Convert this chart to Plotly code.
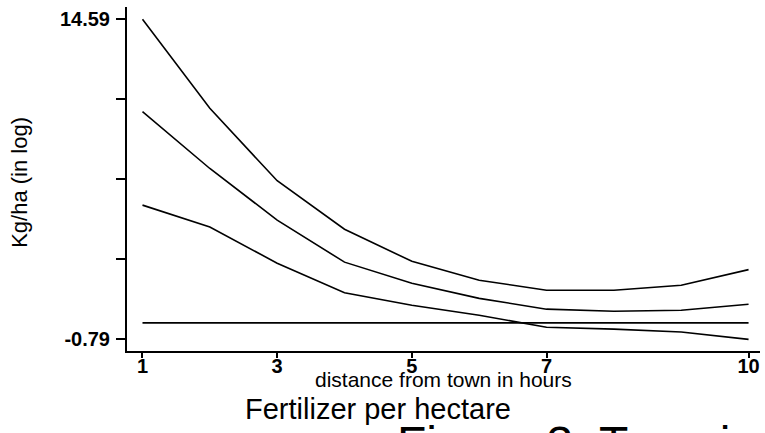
import plotly.graph_objects as go

hours = [1, 2, 3, 4, 5, 6, 7, 8, 9, 10]
upper_band = [14.59, 10.31, 6.83, 4.50, 2.96, 2.05, 1.57, 1.57, 1.81, 2.56]
estimate = [10.15, 7.42, 4.94, 2.92, 1.91, 1.18, 0.66, 0.56, 0.61, 0.90]
lower_band = [5.66, 4.61, 2.87, 1.45, 0.85, 0.37, -0.21, -0.30, -0.44, -0.79]
zero_line = [0, 0, 0, 0, 0, 0, 0, 0, 0, 0]

y_tickvals = [-0.79, 3.055, 6.9, 10.745, 14.59]
y_ticktext = ["-0.79", "", "", "", "14.59"]
x_tickvals = [1, 3, 5, 7, 10]
x_ticktext = ["1", "3", "5", "7", "10"]

FONT = "Liberation Sans, Arial, sans-serif"

fig = go.Figure()
for ys in [upper_band, estimate, lower_band, zero_line]:
    fig.add_trace(go.Scatter(x=hours, y=ys, mode="lines",
                             line=dict(color="black", width=1.6),
                             showlegend=False, hoverinfo="skip", cliponaxis=False))

fig.update_layout(
    width=765, height=433,
    margin=dict(l=127, r=5, t=7, b=82, autoexpand=False),
    paper_bgcolor="white", plot_bgcolor="white",
    font=dict(family=FONT, color="black", size=20),
    xaxis=dict(range=[0.77, 10.17], tickvals=x_tickvals, ticktext=x_ticktext,
               showgrid=False, zeroline=False, showline=True, linecolor="black",
               linewidth=2, ticks="outside", ticklen=5, tickwidth=1.5,
               tickcolor="black", automargin=False, ticklabelstandoff=-9,
               tickfont=dict(size=20, family=FONT, weight="bold")),
    yaxis=dict(range=[-1.35, 15.18], tickvals=y_tickvals, ticktext=y_ticktext,
               showgrid=False, zeroline=False, showline=True, linecolor="black",
               linewidth=2, ticks="outside", ticklen=9, tickwidth=1.5,
               tickcolor="black", automargin=False, ticklabelstandoff=2,
               tickfont=dict(size=20, family=FONT, weight="bold")),
    annotations=[
        dict(text="distance from town in hours", xref="paper", yref="paper",
             x=0.5, y=-0.084, xanchor="center", yanchor="middle",
             showarrow=False, font=dict(size=21, family=FONT)),
        dict(text="Fertilizer per hectare", xref="paper", yref="paper",
             x=0.397, y=-0.169, xanchor="center", yanchor="middle",
             showarrow=False, font=dict(size=29, family=FONT)),
        dict(text="Figure 3: Transi", xref="paper", yref="paper",
             x=0.424, y=-0.268, xanchor="left", yanchor="middle",
             showarrow=False, font=dict(size=48, family=FONT)),
        dict(text="Kg/ha (in log)", xref="paper", yref="paper",
             x=-0.17, y=0.49, xanchor="center", yanchor="middle",
             textangle=-90, showarrow=False, font=dict(size=22, family=FONT)),
    ],
)

fig.write_html("out.html", config={"displayModeBar": False},
               post_script="document.body.style.margin='0';document.body.style.overflow='hidden';")
